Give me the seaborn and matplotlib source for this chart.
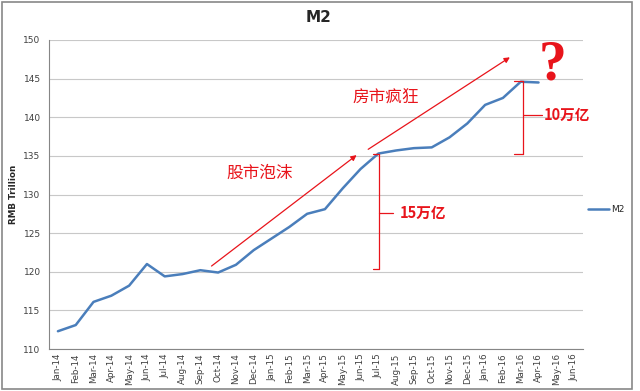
import numpy as np
import pandas as pd
import seaborn as sns
import matplotlib.pyplot as plt
from matplotlib.patches import Rectangle

# 月份标签 (Jan-14 ~ Jun-16)
months = ['Jan-14', 'Feb-14', 'Mar-14', 'Apr-14', 'May-14', 'Jun-14', 'Jul-14', 'Aug-14',
          'Sep-14', 'Oct-14', 'Nov-14', 'Dec-14', 'Jan-15', 'Feb-15', 'Mar-15', 'Apr-15',
          'May-15', 'Jun-15', 'Jul-15', 'Aug-15', 'Sep-15', 'Oct-15', 'Nov-15', 'Dec-15',
          'Jan-16', 'Feb-16', 'Mar-16', 'Apr-16', 'May-16', 'Jun-16']

# M2 余额 (万亿元), 数据到 Apr-16 为止
m2 = [112.3, 113.1, 116.1, 116.9, 118.2, 121.0, 119.4, 119.7,
      120.2, 119.9, 120.9, 122.8, 124.3, 125.8, 127.5, 128.1,
      130.8, 133.3, 135.3, 135.7, 136.0, 136.1, 137.4, 139.2,
      141.6, 142.5, 144.6, 144.5]

df = pd.DataFrame({'idx': np.arange(len(m2)), 'M2': m2})

sns.set_style('white')
plt.rcParams['font.family'] = ['DejaVu Sans', 'Noto Sans CJK SC']
cjk = ['Noto Sans CJK SC', 'DejaVu Sans']
red = '#E8141B'

fig = plt.figure(figsize=(6.4, 3.91), dpi=100)
ax = fig.add_axes([0.0766, 0.1074, 0.8344, 0.7903])

sns.lineplot(data=df, x='idx', y='M2', ax=ax, color='#4A7EBB', linewidth=1.8, label='M2')

ax.set_xlim(-0.5, len(months) - 0.5)
ax.set_ylim(110, 150)
ax.set_yticks(np.arange(110, 151, 5))
ax.set_xticks(np.arange(len(months)))
ax.set_xticklabels(months, rotation=90, fontsize=6.3, color='#404040')
ax.set_xticks(np.arange(-0.5, len(months), 1), minor=True)
ax.tick_params(axis='x', which='major', length=0, pad=3)
ax.tick_params(axis='x', which='minor', length=3, color='#868686', width=0.7)
ax.tick_params(axis='y', length=0, labelsize=6.5, labelcolor='#404040', pad=6)
ax.grid(axis='y', color='#C8C8C8', linewidth=0.8)
for s in ['top', 'right']:
    ax.spines[s].set_visible(False)
for s in ['left', 'bottom']:
    ax.spines[s].set_color('#868686')
    ax.spines[s].set_linewidth(0.8)

ax.set_xlabel('')
ax.set_ylabel('RMB Trillion', fontsize=6.3, fontweight='bold')
ax.yaxis.set_label_coords(-0.058, 0.5)
fig.text(0.497, 0.955, 'M2', ha='center', va='center', fontsize=11, fontweight='bold')

ax.legend(loc='center left', bbox_to_anchor=(1.0, 0.45), frameon=False, fontsize=6.5,
          handlelength=2.3, handletextpad=0.2, borderaxespad=0.2)

# 红色箭头与文字注释
arrow = dict(arrowstyle='-|>', color=red, lw=0.9, mutation_scale=8, shrinkA=0, shrinkB=0)
ax.annotate('', xy=(16.78, 135.1), xytext=(8.63, 120.74), arrowprops=arrow)
ax.annotate('', xy=(25.39, 147.76), xytext=(17.43, 135.85), arrowprops=arrow)
ax.text(11.35, 132.8, '股市泡沫', color=red, fontsize=12, ha='center', va='center', family=cjk)
ax.text(18.4, 142.5, '房市疯狂', color=red, fontsize=12, ha='center', va='center', family=cjk)
ax.text(27.8, 146.7, '?', color=red, fontsize=40, fontweight='bold', ha='center', va='center',
        family=['Liberation Serif'])

# 括号
def bracket(x, y0, y1, left, right, ymid):
    kw = dict(color=red, lw=0.9)
    ax.plot([x, x], [y0, y1], **kw)
    ax.plot([left, x], [y0, y0], **kw)
    ax.plot([left, x], [y1, y1], **kw)
    ax.plot([x, right], [ymid, ymid], **kw)

bracket(18.03, 120.3, 135.2, 17.68, 18.8, 127.6)
ax.text(19.2, 127.6, '15万亿', color=red, fontsize=10.5, fontweight='bold', ha='left',
        va='center', family=cjk)
bracket(26.13, 135.3, 144.7, 25.6, 27.2, 140.3)
ax.text(27.3, 140.3, '10万亿', color=red, fontsize=10.5, fontweight='bold', ha='left',
        va='center', family=cjk)

# 外框
fig.patches.append(Rectangle((0.003, 0.004), 0.985, 0.99, transform=fig.transFigure,
                             fill=False, edgecolor='#888888', linewidth=1.2))

fig.savefig('out.png', dpi=100)
